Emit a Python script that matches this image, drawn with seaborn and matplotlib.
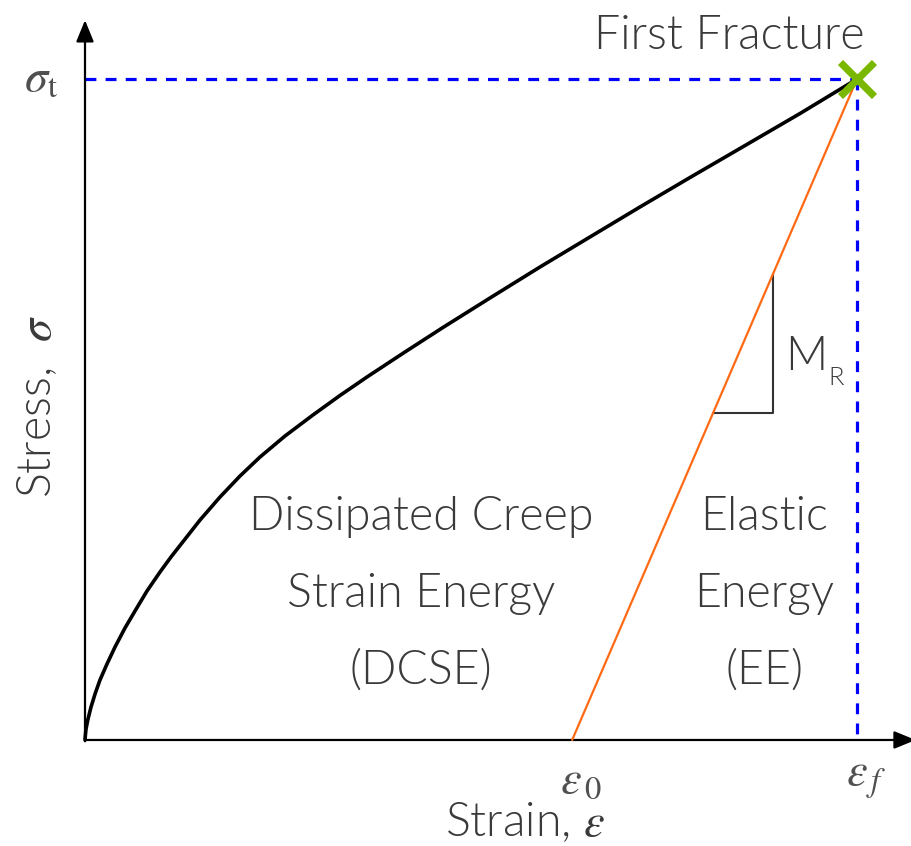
import numpy as np
import pandas as pd
import matplotlib
matplotlib.use("Agg")
import matplotlib.pyplot as plt
import seaborn as sns

# Normalised stress-strain curve up to first fracture (strain / eps_f, stress / sigma_t)
strain = [0.0, 0.0004, 0.0013, 0.0039, 0.0078, 0.0130, 0.0194, 0.0285,
          0.0389, 0.0518, 0.0648, 0.0803, 0.0972, 0.1114, 0.1256, 0.1490,
          0.1749, 0.2008, 0.2267, 0.2591, 0.2953, 0.3303, 0.3653, 0.4145,
          0.4637, 0.5246, 0.5894, 0.6541, 0.7189, 0.7837, 0.8484, 0.9262, 1.0]
stress = [0.0, 0.0061, 0.0166, 0.0318, 0.0499, 0.0696, 0.0908, 0.1150,
          0.1407, 0.1694, 0.1952, 0.2254, 0.2542, 0.2769, 0.2980, 0.3328,
          0.3676, 0.3994, 0.4281, 0.4599, 0.4917, 0.5212, 0.5492, 0.5870,
          0.6241, 0.6687, 0.7156, 0.7610, 0.8064, 0.8510, 0.8949, 0.9478, 1.0]

eps_0 = 0.631          # residual strain after elastic unloading
eps_f = 1.0            # strain at first fracture
sigma_t = 1.0          # tensile strength
slope_top = 0.891      # strain where the slope triangle's vertical leg sits
slope_base = 0.495     # stress of the triangle's horizontal leg

dcse_lines = ["Dissipated Creep", "Strain Energy", "(DCSE)"]
ee_lines = ["Elastic", "Energy", "(EE)"]
line_baselines = [0.318, 0.201, 0.085]

sns.set_theme(style="white")
plt.rcParams["font.family"] = ["Lato", "DejaVu Sans"]
plt.rcParams["mathtext.fontset"] = "stix"

fig = plt.figure(figsize=(9.12, 8.46), dpi=100)
ax = fig.add_axes([0, 0, 1, 1])
ax.set_xlim(-0.1101, 1.0712)
ax.set_ylim(-0.1604, 1.1195)
ax.axis("off")

txt = "#3a3a3a"
math_col = "#505050"
fs = 33.5
fw = 300

# axes with arrow heads
arrow = dict(arrowstyle="-|>,head_length=1.1,head_width=0.45",
             color="black", lw=1.6, shrinkA=0, shrinkB=0)
ax.annotate("", xy=(1.076, 0), xytext=(0, 0), arrowprops=arrow,
            annotation_clip=False)
ax.annotate("", xy=(0, 1.089), xytext=(0, -0.002), arrowprops=arrow,
            annotation_clip=False)

# guide lines to the fracture point
ax.plot([0, eps_f], [sigma_t, sigma_t], color="#0000ff", lw=2.3,
        dashes=(3.4, 2.9), solid_capstyle="butt", zorder=2)
ax.plot([eps_f, eps_f], [sigma_t, 0], color="#0000ff", lw=2.3,
        dashes=(3.4, 2.9), solid_capstyle="butt", zorder=2)

# loading curve
df = pd.DataFrame({"strain": strain, "stress": stress})
sns.lineplot(data=df, x="strain", y="stress", sort=False, estimator=None,
             color="black", lw=2.6, ax=ax, zorder=3)
ax.lines[-1].set_solid_joinstyle("round")

# elastic unloading line
ax.plot([eps_0, eps_f], [0, sigma_t], color="#ff6a14", lw=1.6, zorder=3)

# slope triangle
def unload(e):
    return (e - eps_0) / (eps_f - eps_0) * sigma_t

base_x = eps_0 + slope_base / sigma_t * (eps_f - eps_0)
ax.plot([slope_top, slope_top, base_x],
        [unload(slope_top), slope_base, slope_base],
        color="#333333", lw=1.5, zorder=2)

# fracture marker
ax.plot([eps_f], [sigma_t], marker="x", markersize=25, mew=5.2,
        color="#7ab800", linestyle="none", zorder=5)

# annotations
ax.text(0.835, 1.045, "First Fracture", fontsize=fs, color=txt,
        ha="center", va="baseline", fontweight=fw)
for line, yb in zip(dcse_lines, line_baselines):
    ax.text(0.435, yb, line, fontsize=fs, color=txt,
            ha="center", va="baseline", fontweight=fw)
for line, yb in zip(ee_lines, line_baselines):
    ax.text(0.880, yb, line, fontsize=fs, color=txt,
            ha="center", va="baseline", fontweight=fw)
ax.text(0.907, 0.56, "M", fontsize=fs, color=txt,
        ha="left", va="baseline", fontweight=fw)
ax.text(0.963, 0.537, "R", fontsize=fs * 0.55, color=txt,
        ha="left", va="baseline", fontweight=fw)
ax.text(-0.062, 0.505, r"Stress,  $\sigma$", fontsize=fs, color=txt,
        ha="center", va="center", rotation=90, fontweight=fw)
ax.text(-0.057, 1.0, r"$\sigma_{\mathrm{t}}$", fontsize=fs, color=math_col,
        ha="center", va="center")
ax.text(eps_0 + 0.012, -0.06, r"$\varepsilon_{\,0}$", fontsize=fs,
        color=math_col, ha="center", va="center")
ax.text(eps_f + 0.012, -0.06, r"$\varepsilon_{\,f}$", fontsize=fs,
        color=math_col, ha="center", va="center")
ax.text(0.570, -0.125, r"Strain, $\varepsilon$", fontsize=fs, color=txt,
        ha="center", va="center", fontweight=fw)

fig.savefig("out.png", dpi=100, facecolor="white")
